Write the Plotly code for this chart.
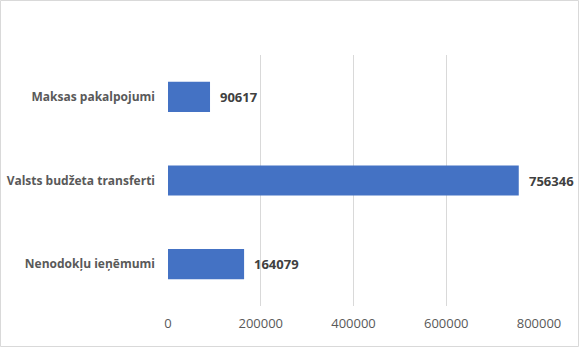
import plotly.graph_objects as go

categories = ["Nenodokļu ieņēmumi", "Valsts budžeta transferti", "Maksas pakalpojumi"]
values = [164079, 756346, 90617]
tick_vals = [0, 200000, 400000, 600000, 800000]
tick_text = ["0", "200000", "400000", "600000", "800000"]

W, H = 580, 349
L, R, T, B = 168, 41, 55, 43
pw, ph = W - L - R, H - T - B

fig = go.Figure(go.Bar(
    y=categories, x=values, orientation="h",
    marker=dict(color="#4472C4", line=dict(width=0)),
    hoverinfo="skip",
))

for c, v in zip(categories, values):
    fig.add_annotation(x=v, y=c, xref="x", yref="y", text=f"<b>{v}</b>",
                       showarrow=False, xanchor="left", xshift=8,
                       font=dict(family="Open Sans", size=13, color="#404040"))

# chart border
fig.add_shape(type="rect", xref="paper", yref="paper",
              x0=(0.5 - L) / pw, x1=(W - 1.5 - L) / pw,
              y0=-(B - 2.5) / ph, y1=1 + (T - 0.5) / ph,
              line=dict(color="#d9d9d9", width=1), fillcolor="rgba(0,0,0,0)", layer="below")

fig.update_layout(
    width=W, height=H,
    margin=dict(l=L, r=R, t=T, b=B),
    paper_bgcolor="white", plot_bgcolor="white",
    bargap=0.64, showlegend=False,
    font=dict(family="Open Sans", size=12, color="#595959"),
    xaxis=dict(range=[0, 800000], tickvals=tick_vals, ticktext=tick_text,
               showgrid=True, gridcolor="#d9d9d9", gridwidth=1, automargin=False,
               zeroline=False, showline=False, ticks="", ticklabelstandoff=8,
               tickfont=dict(family="Open Sans", size=13, color="#595959"), fixedrange=True),
    yaxis=dict(showgrid=False, zeroline=False, showline=False, ticks="",
               ticklabelstandoff=12, automargin=False,
               tickvals=categories, ticktext=[f"<b>{c}</b>" for c in categories],
               tickfont=dict(family="Open Sans", size=12, color="#595959"), fixedrange=True),
)

fig.write_html("out.html")
